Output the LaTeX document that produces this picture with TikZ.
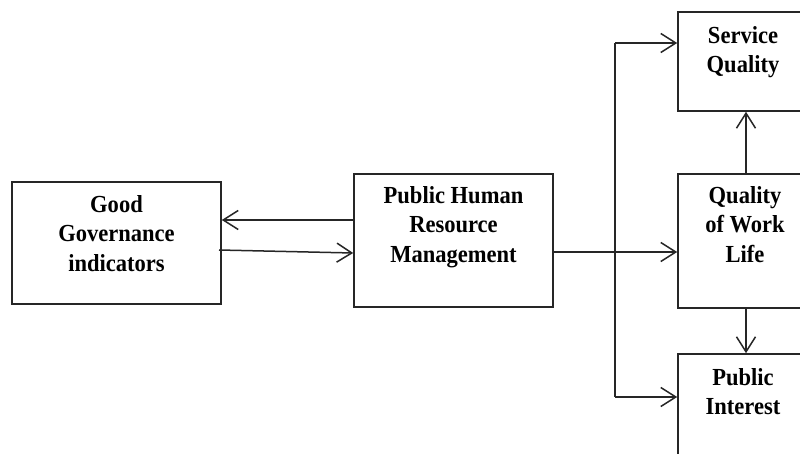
\documentclass[tikz,border=0pt]{standalone}
\usepackage{fontspec}
\setmainfont[FakeStretch=0.92]{Liberation Serif}
\usetikzlibrary{arrows.meta}
\begin{document}
\begin{tikzpicture}[x=1pt,y=-1pt,
  box/.style={draw=black!85, line width=1.6pt, inner sep=0pt},
  label text/.style={anchor=north, inner sep=0pt, align=center,
    font=\fontsize{24.5}{29.5}\selectfont\bfseries},
  wire/.style={draw=black!85, line width=1.5pt},
  arr/.style={wire, -{Straight Barb[length=15pt,width=19pt,line width=1.5pt]}}]
\useasboundingbox (0,0) rectangle (800,454);
\clip (0,0) rectangle (800,454);
\fill[white] (0,0) rectangle (800,454);

% boxes
\node[box, minimum width=209pt, minimum height=122pt] (good) at (116.5,243) {};
\node[box, minimum width=199pt, minimum height=133pt] (phrm) at (453.5,240.5) {};
\node[box, minimum width=134pt, minimum height=99pt]  (sq)   at (745,61.5) {};
\node[box, minimum width=134pt, minimum height=134pt] (qwl)  at (745,241) {};
\node[box, minimum width=134pt, minimum height=116pt] (pi)   at (745,412) {};

% box texts
\node[label text] (goodt) at ([yshift=-14pt]good.north) {Good\\Governance\\indicators};
\node[label text] (phrmt) at ([yshift=-13pt]phrm.north) {Public Human\\Resource\\Management};
\node[label text] (sqt)   at ([xshift=-2pt,yshift=-15pt]sq.north) {Service\\Quality};
\node[label text] (qwlt)  at ([yshift=-13pt]qwl.north) {Quality\\of Work\\Life};
\node[label text] (pit)   at ([xshift=-2pt,yshift=-15pt]pi.north) {Public\\Interest};

% links between governance and HRM
\coordinate (fb) at (0,220);
\coordinate (gstart) at (219,250);
\coordinate (gend) at (0,253);
\draw[arr] (phrm.west |- fb) -- (good.east |- fb);
\draw[arr] (gstart) -- (phrm.west |- gend);

% branching from HRM
\coordinate (split) at (615,252);
\coordinate (top) at (615,43);
\coordinate (bot) at (615,397);
\draw[arr] (phrm.east |- split) -- (qwl.west |- split);
\draw[wire] (top) -- (bot);
\draw[arr] (top) -- (sq.west |- top);
\draw[arr] (bot) -- (pi.west |- bot);

% quality of work life outcomes
\coordinate (col) at (746,0);
\draw[arr] (col |- qwl.north) -- (col |- sq.south);
\draw[arr] (col |- qwl.south) -- (col |- pi.north);
\end{tikzpicture}
\end{document}
